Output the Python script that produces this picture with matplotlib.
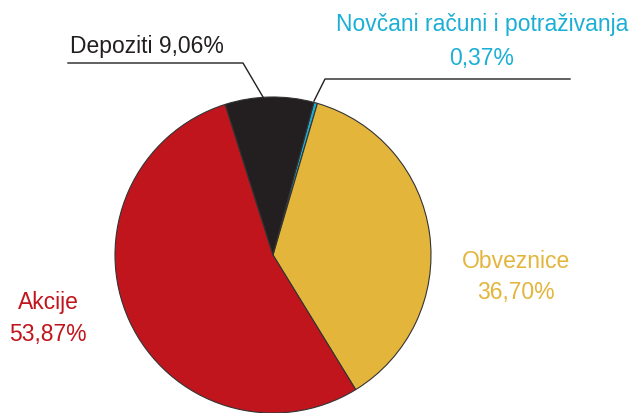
import matplotlib.pyplot as plt

# ── Data ─────────────────────────────────────────────────────
labels = ['Novčani računi i potraživanja', 'Obveznice', 'Akcije', 'Depoziti']
values = [0.37, 36.70, 53.87, 9.06]
colors = ['#1BAFD5', '#E3B53B', '#C1151D', '#231F20']
value_text = ['0,37%', '36,70%', '53,87%', '9,06%']

plt.rcParams['font.family'] = ['Liberation Sans', 'DejaVu Sans']

W, H = 631, 413
fig = plt.figure(figsize=(W / 100, H / 100), dpi=100)
ax = fig.add_axes([0, 0, 1, 1])
ax.set_xlim(0, W)
ax.set_ylim(0, H)
ax.set_aspect('equal')
ax.axis('off')

def Y(py):
    return H - py

ax.pie(values, colors=colors, startangle=75, counterclock=False,
       center=(273, Y(255)), radius=158, frame=True,
       wedgeprops=dict(edgecolor='#333333', linewidth=0.8))
ax.set_xlim(0, W)
ax.set_ylim(0, H)
ax.axis('off')

fs = 16.5

# Depoziti
ax.text(70, Y(47), f'{labels[3]} {value_text[3]}', color=colors[3],
        fontsize=fs, ha='left', va='center')
ax.plot([68, 243, 263], [Y(63), Y(63), Y(97)], color='#231F20', lw=1)

# Novčani računi
ax.text(482, Y(25), labels[0], color=colors[0], fontsize=fs, ha='center', va='center')
ax.text(482, Y(58), value_text[0], color=colors[0], fontsize=fs, ha='center', va='center')
ax.plot([570, 325, 314], [Y(79), Y(79), Y(101)], color='#231F20', lw=1)

# Obveznice
ax.text(516, Y(262), labels[1], color=colors[1], fontsize=fs, ha='center', va='center')
ax.text(516, Y(293), value_text[1], color=colors[1], fontsize=fs, ha='center', va='center')

# Akcije
ax.text(48, Y(303), labels[2], color=colors[2], fontsize=fs, ha='center', va='center')
ax.text(48, Y(334), value_text[2], color=colors[2], fontsize=fs, ha='center', va='center')

fig.savefig('out.png', dpi=100)
